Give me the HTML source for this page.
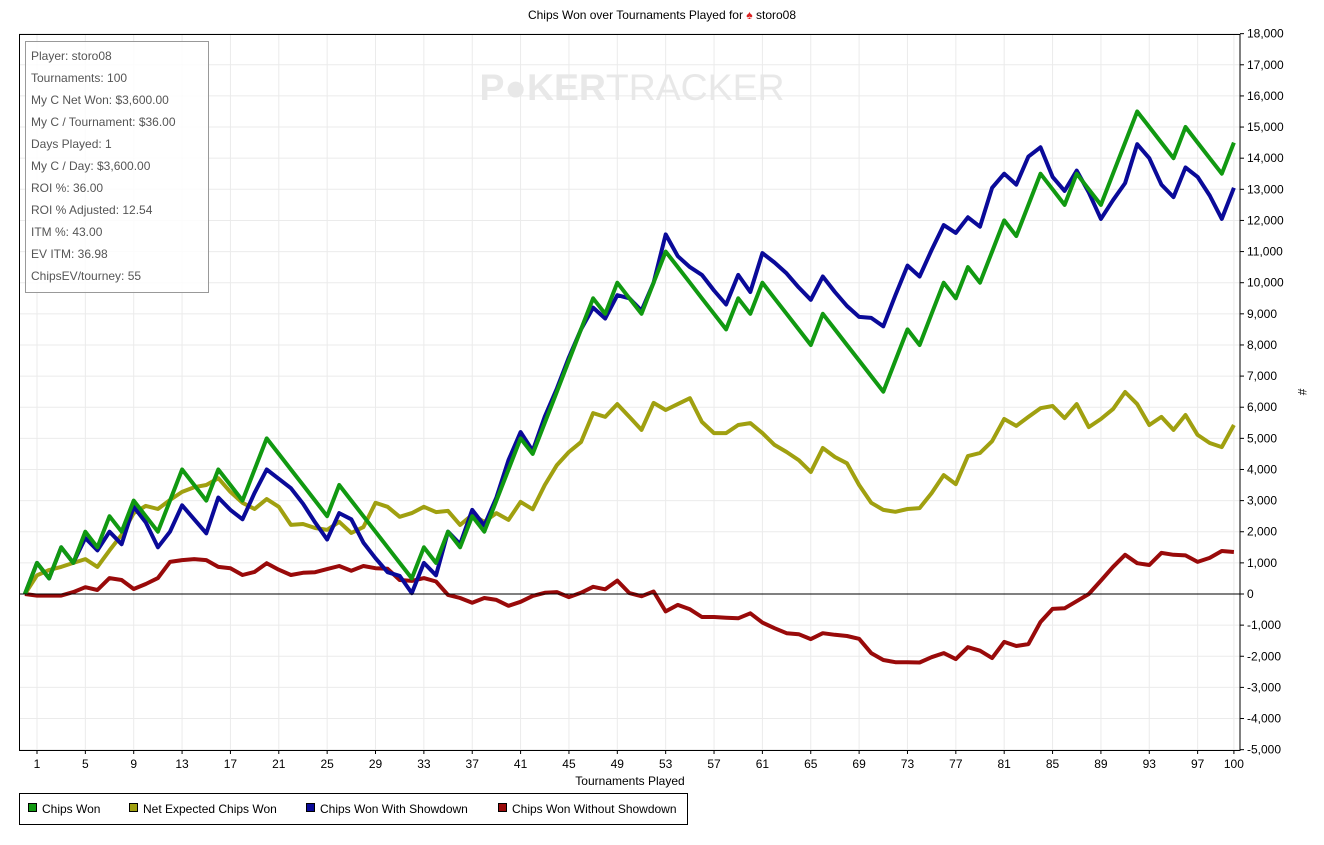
<!DOCTYPE html>
<html><head><meta charset="utf-8"><style>
body{margin:0;background:#fff;}
svg{display:block;font-family:"Liberation Sans",Arial,sans-serif;}
</style></head><body>
<svg id="s" width="1324" height="845" xmlns="http://www.w3.org/2000/svg">
<rect width="1324" height="845" fill="#fff"/>
<g id="grid" stroke="#ebebeb" stroke-width="1"></g>
<text x="632" y="100" font-size="37" font-weight="bold" fill="#e8e8e8" text-anchor="middle" textLength="305" lengthAdjust="spacingAndGlyphs">P●KER<tspan font-weight="normal">TRACKER</tspan></text>
<g id="series" fill="none" stroke-width="4" stroke-linejoin="round"></g>
<line x1="19" y1="594" x2="1240" y2="594" stroke="#000" stroke-width="1"/>
<rect x="19.5" y="34.5" width="1220.5" height="716" fill="none" stroke="#000" stroke-width="1"/>
<g id="ticks" font-size="12" fill="#000"></g>
<text x="662" y="19" font-size="12" text-anchor="middle">Chips Won over Tournaments Played for <tspan fill="#d22">♠</tspan> storo08</text>
<text x="630" y="785" font-size="12" text-anchor="middle">Tournaments Played</text>
<text x="1298" y="392" font-size="12" text-anchor="middle" transform="rotate(90 1298 392)">#</text>
<rect x="25.5" y="41.5" width="183" height="251" fill="#fff" fill-opacity="0.85" stroke="#999"/>
<g font-size="12" fill="#555">
<text x="31" y="60">Player: storo08</text>
<text x="31" y="82">Tournaments: 100</text>
<text x="31" y="104">My C Net Won: $3,600.00</text>
<text x="31" y="126">My C / Tournament: $36.00</text>
<text x="31" y="148">Days Played: 1</text>
<text x="31" y="170">My C / Day: $3,600.00</text>
<text x="31" y="192">ROI %: 36.00</text>
<text x="31" y="214">ROI % Adjusted: 12.54</text>
<text x="31" y="236">ITM %: 43.00</text>
<text x="31" y="258">EV ITM: 36.98</text>
<text x="31" y="280">ChipsEV/tourney: 55</text>
</g>
<rect x="19.5" y="793.5" width="668" height="31" fill="#fff" stroke="#000"/>
<g font-size="12">
<rect x="28.5" y="803.5" width="8" height="8" fill="#119911" stroke="#000"/><text x="42" y="813">Chips Won</text>
<rect x="129.5" y="803.5" width="8" height="8" fill="#a0a010" stroke="#000"/><text x="143" y="813">Net Expected Chips Won</text>
<rect x="306.5" y="803.5" width="8" height="8" fill="#0a0a99" stroke="#000"/><text x="320" y="813">Chips Won With Showdown</text>
<rect x="498.5" y="803.5" width="8" height="8" fill="#990a0a" stroke="#000"/><text x="512" y="813">Chips Won Without Showdown</text>
</g>
</svg>
<script>
const NS="http://www.w3.org/2000/svg";
function X(t){return 24.9+t*12.09;}
function Y(v){return 594-v*0.03113;}
const g=document.getElementById('grid'),tk=document.getElementById('ticks'),se=document.getElementById('series');
function el(p,tag,a,txt){const e=document.createElementNS(NS,tag);for(const k in a)e.setAttribute(k,a[k]);if(txt!==undefined)e.textContent=txt;p.appendChild(e);return e;}
for(let v=-5000;v<=18000;v+=1000){const y=Y(v);el(g,'line',{x1:19,x2:1240,y1:y,y2:y});
el(tk,'line',{x1:1240,x2:1244,y1:y,y2:y,stroke:'#000'});
el(tk,'text',{x:1247,y:y+4},v.toLocaleString('en-US'));}
const ts=[];for(let t=1;t<=97;t+=4)ts.push(t);ts.push(100);
for(const t of ts){const x=X(t);el(g,'line',{x1:x,x2:x,y1:34,y2:750});
el(tk,'line',{x1:x,x2:x,y1:750,y2:754,stroke:'#000'});
el(tk,'text',{x:x,y:768,'text-anchor':'middle'},String(t));}
const green=[0,1000,500,1500,1000,2000,1500,2500,2000,3000,2500,2000,3000,4000,3500,3000,4000,3500,3000,4000,5000,4500,4000,3500,3000,2500,3500,3000,2500,2000,1500,1000,500,1500,1000,2000,1500,2500,2000,3000,4000,5000,4500,5500,6500,7500,8500,9500,9000,10000,9500,9000,10000,11000,10500,10000,9500,9000,8500,9500,9000,10000,9500,9000,8500,8000,9000,8500,8000,7500,7000,6500,7500,8500,8000,9000,10000,9500,10500,10000,11000,12000,11500,12500,13500,13000,12500,13500,13000,12500,13500,14500,15500,15000,14500,14000,15000,14500,14000,13500,14500];
const blue=[0,1000,500,1500,1000,1800,1400,2000,1600,2800,2300,1500,2000,2850,2400,1950,3100,2700,2400,3250,4000,3700,3400,2900,2300,1750,2600,2400,1650,1150,700,580,30,1000,600,2000,1600,2700,2200,3100,4300,5200,4600,5700,6600,7600,8500,9200,8850,9600,9500,9100,10000,11550,10850,10500,10250,9750,9300,10250,9700,10950,10650,10300,9850,9450,10200,9700,9250,8900,8870,8600,9600,10550,10200,11050,11850,11600,12100,11800,13050,13500,13150,14050,14350,13400,12950,13600,12900,12050,12650,13200,14450,14000,13150,12750,13700,13400,12800,12050,13050];
const olive=[0,600,770,870,1000,1120,870,1400,1900,2600,2830,2730,3020,3280,3430,3500,3720,3280,2930,2730,3050,2800,2220,2250,2120,2060,2320,1960,2150,2930,2800,2480,2600,2800,2630,2670,2220,2540,2320,2600,2380,2960,2720,3500,4140,4560,4880,5810,5690,6100,5690,5270,6140,5910,6100,6290,5530,5170,5170,5430,5490,5170,4790,4560,4300,3920,4690,4400,4200,3500,2930,2700,2640,2730,2760,3240,3820,3530,4430,4530,4910,5620,5400,5690,5970,6040,5650,6100,5360,5620,5940,6490,6100,5430,5690,5270,5750,5110,4850,4720,5430];
const red=[0,-50,-50,-50,60,220,130,510,450,160,320,510,1030,1090,1120,1090,870,830,610,710,990,780,610,680,700,800,900,750,900,830,810,450,420,510,400,-30,-130,-280,-130,-190,-380,-250,-60,40,60,-100,40,230,150,430,30,-70,80,-560,-350,-490,-740,-740,-760,-780,-620,-920,-1100,-1260,-1290,-1450,-1260,-1310,-1350,-1440,-1900,-2120,-2190,-2190,-2200,-2030,-1900,-2090,-1710,-1820,-2060,-1540,-1670,-1610,-900,-480,-460,-230,0,430,870,1260,990,930,1320,1260,1240,1030,1160,1380,1350];
function draw(d,c){el(se,'polyline',{points:d.map((v,i)=>X(i).toFixed(1)+','+Y(v).toFixed(1)).join(' '),stroke:c});}
draw(red,'#990a0a');draw(olive,'#a0a010');draw(blue,'#0a0a99');draw(green,'#119911');
</script>
</body></html>
